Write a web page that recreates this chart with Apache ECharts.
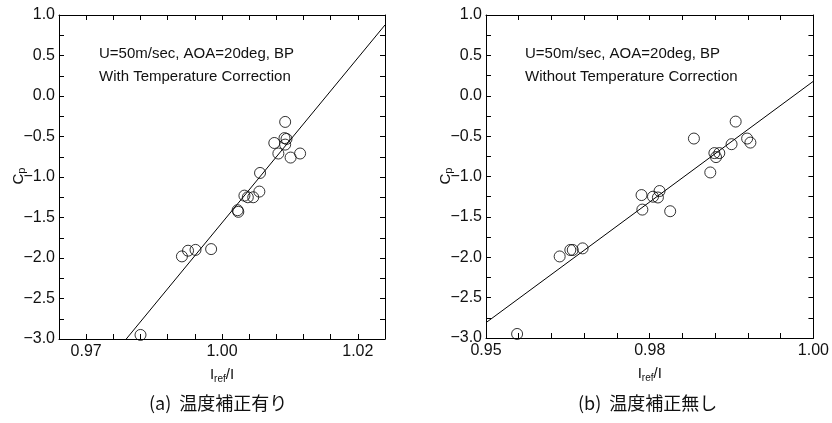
<!DOCTYPE html>
<html>
<head>
<meta charset="utf-8">
<script src="https://cdn.jsdelivr.net/npm/echarts@6/dist/echarts.min.js"></script>
<style>
html, body { margin: 0; background: #fff; }
#chart { width: 832px; height: 423px; }
</style>
</head>
<body>
<div id="chart"></div>
<script>
// (a) with temperature correction
var xWith = [1.0093, 1.0092, 1.0095, 1.0093, 1.0077, 1.0083, 1.0101, 1.0115, 1.0056, 1.0033,
             1.0038, 1.0046, 1.0055, 1.0023, 1.0024, 0.9941, 0.9950, 0.9961, 0.9984, 0.9880];
var yWith = [-0.32, -0.52, -0.53, -0.60, -0.58, -0.71, -0.76, -0.71, -0.95, -1.23,
             -1.25, -1.25, -1.18, -1.41, -1.43, -1.98, -1.91, -1.90, -1.89, -2.95];
var fitWith = [[0.9859, -3.0], [1.024, 0.877]];

// (b) without temperature correction
var xWithout = [0.9905, 0.9919, 0.9923, 0.9900, 0.9854, 0.9879, 0.9881, 0.9885, 0.9874, 0.9790,
                0.9804, 0.9810, 0.9812, 0.9791, 0.9825, 0.9690, 0.9703, 0.9706, 0.9718, 0.9638];
var yWithout = [-0.32, -0.53, -0.58, -0.60, -0.53, -0.71, -0.76, -0.71, -0.95, -1.23,
                -1.25, -1.26, -1.18, -1.41, -1.43, -1.99, -1.91, -1.91, -1.89, -2.95];
var fitWithout = [[0.96, -2.81], [1.00, 0.18]];

// tick labels as printed on the figure (keyed by value*1000)
var xLabelsWith = {980: '0.97', 1000: '1.00', 1020: '1.02'};
var xLabelsWithout = {960: '0.95', 980: '0.98', 1000: '1.00'};

var txt = '#111';
var font = 'Liberation Sans';

function zip(xs, ys) {
  return xs.map(function (x, i) { return [x, ys[i]]; });
}

function xAxes(gi, min, max, labels) {
  var base = {
    type: 'value', gridIndex: gi, min: min, max: max, interval: 0.004,
    axisLine: { onZero: false, lineStyle: { color: '#000', width: 1 } },
    axisTick: { inside: true, length: 5, lineStyle: { color: '#000' } },
    splitLine: { show: false }
  };
  var bottom = Object.assign({}, base, {
    position: 'bottom',
    name: 'I{sub|ref}/I',
    nameLocation: 'middle',
    nameGap: 27,
    nameTextStyle: {
      color: txt, fontFamily: font, fontSize: 15,
      rich: { sub: { fontSize: 10, fontFamily: font, color: txt, verticalAlign: 'bottom', padding: [8, 0, 0, 0] } }
    },
    axisLabel: {
      color: txt, fontFamily: font, fontSize: 16, margin: 5,
      formatter: function (v) { return labels[Math.round(v * 1000)] || ''; }
    }
  });
  var top = Object.assign({}, base, { position: 'top', axisLabel: { show: false } });
  return [bottom, top];
}

function yAxes(gi) {
  var base = {
    type: 'value', gridIndex: gi, min: -3, max: 1, interval: 0.5,
    axisLine: { show: true, onZero: false, lineStyle: { color: '#000', width: 1 } },
    axisTick: { show: true, inside: true, length: 5, lineStyle: { color: '#000' } },
    minorTick: { show: true, splitNumber: 2, length: 5, lineStyle: { color: '#000' } },
    splitLine: { show: false }
  };
  var left = Object.assign({}, base, {
    position: 'left',
    axisLabel: {
      color: txt, fontFamily: font, fontSize: 16, margin: 4,
      formatter: function (v) { return v.toFixed(1).replace('-', '\u2212'); }
    }
  });
  var right = Object.assign({}, base, { position: 'right', axisLabel: { show: false } });
  return [left, right];
}

var xa = xAxes(0, 0.976, 1.024, xLabelsWith).concat(xAxes(1, 0.96, 1.00, xLabelsWithout));
var ya = yAxes(0).concat(yAxes(1));

function scatter(xi, yi, data) {
  return {
    type: 'scatter', xAxisIndex: xi, yAxisIndex: yi, data: data,
    symbol: 'circle', symbolSize: 11,
    itemStyle: { color: 'rgba(0,0,0,0)', borderColor: '#000', borderWidth: 1 },
    emphasis: { disabled: true }, silent: true
  };
}

function fit(xi, yi, data) {
  return {
    type: 'line', xAxisIndex: xi, yAxisIndex: yi, data: data,
    showSymbol: false, symbol: 'none', clip: true,
    lineStyle: { color: '#000', width: 1 }, silent: true, z: 1
  };
}

function note(x, lines) {
  return {
    type: 'text', left: x, top: 42,
    style: { text: lines.join('\n'), fill: txt, font: '15px "Liberation Sans"', lineHeight: 23 }
  };
}

function caption(x, s) {
  return {
    type: 'text', left: x, top: 394,
    style: { text: s, fill: txt, font: '18px "Noto Sans CJK JP"' }
  };
}

// rotated "Cp" axis title, reading bottom to top
function cpLabel(x, y) {
  return {
    type: 'text', x: x, y: y, rotation: Math.PI / 2,
    style: {
      text: 'C{sub|p}', fill: txt, font: '15px "Liberation Sans"',
      align: 'center', verticalAlign: 'middle',
      rich: { sub: { fontSize: 11, fontFamily: font, fill: txt, padding: [6, 0, 0, 0] } }
    }
  };
}

var chart = echarts.init(document.getElementById('chart'), null, { renderer: 'canvas' });
chart.setOption({
  animation: false,
  backgroundColor: '#fff',
  grid: [
    { left: 59, top: 15, width: 326, height: 324 },
    { left: 486, top: 15, width: 328, height: 323 }
  ],
  xAxis: xa,
  yAxis: ya,
  series: [
    fit(0, 0, fitWith),
    scatter(0, 0, zip(xWith, yWith)),
    fit(2, 2, fitWithout),
    scatter(2, 2, zip(xWithout, yWithout))
  ],
  graphic: [
    note(99, ['U=50m/sec, AOA=20deg, BP', 'With Temperature Correction']),
    note(525, ['U=50m/sec, AOA=20deg, BP', 'Without Temperature Correction']),
    cpLabel(19, 176),
    cpLabel(446, 176),
    caption(149, '(a)  温度補正有り'),
    caption(578, '(b)  温度補正無し')
  ]
});
</script>
</body>
</html>
